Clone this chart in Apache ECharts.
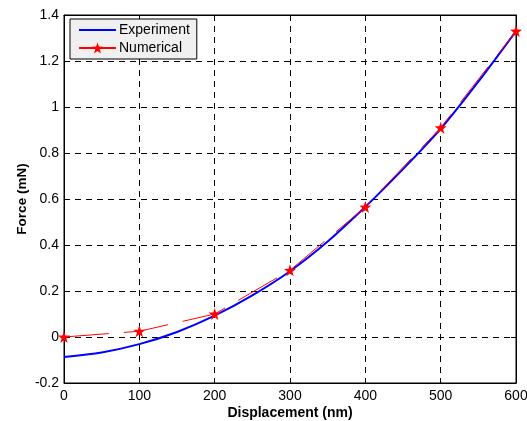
<!DOCTYPE html>
<html>
<head>
<meta charset="utf-8">
<script src="https://cdn.jsdelivr.net/npm/echarts@6/dist/echarts.min.js"></script>
<style>
  html, body { margin: 0; padding: 0; background: #fff; }
  #chart { width: 527px; height: 421px; }
</style>
</head>
<body>
<div id="chart"></div>
<script>
// displacement (nm) vs force (mN)
const expDisp = [0, 50, 100, 150, 200, 250, 300, 350, 400, 450, 500, 550, 600];
const expForce = [-0.087, -0.067, -0.031, 0.022, 0.093, 0.181, 0.286, 0.415, 0.566, 0.73, 0.905, 1.11, 1.33];
const numDisp = [0, 100, 200, 300, 400, 500, 600];
const numForce = [0, 0.025, 0.1, 0.29, 0.565, 0.91, 1.33];

const starPath = 'path://M0,-10 L2.35,-3.24 L9.51,-3.09 L3.8,1.24 L5.88,8.09 L0,4 L-5.88,8.09 L-3.8,1.24 L-9.51,-3.09 L-2.35,-3.24 Z';
const font = 'Liberation Sans, Arial, sans-serif';

const chart = echarts.init(document.getElementById('chart'));

const gridLine = { show: true, lineStyle: { color: '#000', type: [6, 5], width: 1 } };
const tick = { show: true, inside: true, length: 5, lineStyle: { color: '#000' } };

chart.setOption({
  animation: false,
  grid: { left: 64, right: 11, top: 15, bottom: 38, outerBoundsMode: 'none', show: true, borderColor: '#000', borderWidth: 1 },
  legend: {
    left: 70,
    top: 19,
    orient: 'vertical',
    backgroundColor: '#f0f0f0',
    borderColor: '#000',
    borderWidth: 1,
    borderRadius: 0,
    padding: [4, 7, 4, 8],
    itemGap: 4,
    itemWidth: 37,
    itemHeight: 14,
    textStyle: { fontFamily: font, fontSize: 14, color: '#000', padding: [0, 0, 0, -2] },
    data: [
      { name: 'Experiment', itemStyle: { opacity: 0 } },
      { name: 'Numerical', lineStyle: { type: 'solid' } }
    ]
  },
  xAxis: [{
    type: 'value', min: 0, max: 600, interval: 100,
    name: 'Displacement (nm)', nameLocation: 'middle', nameGap: 23, nameMoveOverlap: false,
    nameTextStyle: { fontFamily: font, fontSize: 14, fontWeight: 'bold', color: '#000' },
    axisLine: { show: true, onZero: false, lineStyle: { color: '#000' } },
    axisTick: tick,
    axisLabel: { fontFamily: font, fontSize: 14, color: '#000', margin: 6 },
    splitLine: gridLine
  }, {
    type: 'value', min: 0, max: 600, interval: 100, position: 'top',
    axisLine: { show: true, onZero: false, lineStyle: { color: '#000' } },
    axisTick: tick, axisLabel: { show: false }, splitLine: { show: false }
  }],
  yAxis: [{
    type: 'value', min: -0.2, max: 1.4, interval: 0.2,
    name: 'Force (mN)', nameLocation: 'middle', nameGap: 35, nameMoveOverlap: false,
    nameTextStyle: { fontFamily: font, fontSize: 13.5, fontWeight: 'bold', color: '#000' },
    axisLine: { show: true, onZero: false, lineStyle: { color: '#000' } },
    axisTick: tick,
    axisLabel: { fontFamily: font, fontSize: 14, color: '#000', margin: 5,
      formatter: (v) => String(parseFloat(v.toFixed(2))) },
    splitLine: gridLine
  }, {
    type: 'value', min: -0.2, max: 1.4, interval: 0.2, position: 'right',
    axisLine: { show: true, onZero: false, lineStyle: { color: '#000' } },
    axisTick: tick, axisLabel: { show: false }, splitLine: { show: false }
  }],
  series: [{
    name: 'Experiment',
    type: 'line',
    smooth: 0.3,
    showSymbol: false,
    symbol: 'none',
    data: expDisp.map((d, i) => [d, expForce[i]]),
    lineStyle: { color: '#0000ff', width: 2 },
    itemStyle: { color: '#0000ff' },
    z: 3
  }, {
    name: 'Numerical',
    type: 'line',
    symbol: starPath,
    symbolSize: 12,
    data: numDisp.map((d, i) => [d, numForce[i]]),
    lineStyle: { color: '#ff0000', width: 1, type: [45, 15] },
    itemStyle: { color: '#ff0000' },
    z: 4
  }]
});
</script>
</body>
</html>
